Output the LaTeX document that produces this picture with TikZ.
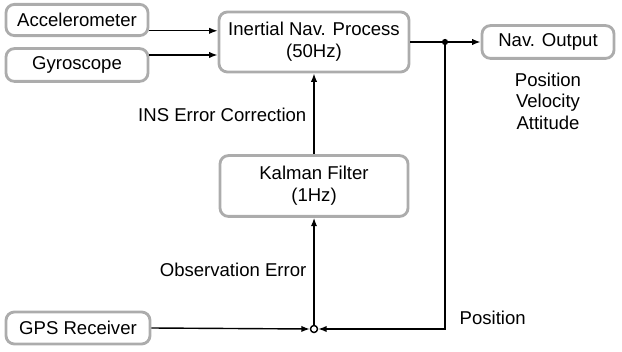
\documentclass[tikz,border=0pt]{standalone}
\usepackage{fontspec}
\setmainfont{Liberation Sans}
\usetikzlibrary{positioning,arrows.meta,calc}

\begin{document}
\begin{tikzpicture}[
  x=0.025cm, y=-0.025cm,
  >={Latex[length=6pt,width=4.5pt]},
  font=\fontsize{13.2pt}{15.5pt}\selectfont,
  box/.style={
    draw=gray!65, line width=2pt, rounded corners=6pt,
    inner sep=3pt, align=center
  },
  tag/.style={align=center, inner sep=1pt},
  arrow/.style={->, line width=1pt, black}
]
\useasboundingbox (0,0) rectangle (622,352);

% sensor inputs
\node[box, minimum width=3.55cm, minimum height=0.78cm] (acc) at (77,20) {Accelerometer};
\node[box, minimum width=3.55cm, minimum height=0.82cm] (gyro) at (77,65) {Gyroscope};
\node[box, minimum width=3.6cm, minimum height=0.8cm] (gps) at (78,328) {GPS Receiver};

% processing
\node[box, minimum width=4.75cm, minimum height=1.5cm] (ins) at (314,42) {Inertial Nav. Process\\(50Hz)};
\node[box, minimum width=4.7cm, minimum height=1.52cm] (kal) at (314,186) {Kalman Filter\\(1Hz)};
\node[box, minimum width=3.3cm, minimum height=0.82cm] (nav) at (548,42) {Nav. Output};
\node[tag, below=0.28cm of nav] (navlist) {Position\\Velocity\\Attitude};

% junctions
\node[draw, circle, line width=1pt, fill=white, inner sep=0pt, minimum size=5pt] (sum) at (314,329) {};
\coordinate (split) at (445,42);
\coordinate (accout) at ([yshift=-0.27cm]acc.east);
\coordinate (gyroout) at ([yshift=0.25cm]gyro.east);

% connectors
\draw[arrow] (accout) -- (accout -| ins.west);
\draw[arrow] (gyroout) -- (gyroout -| ins.west);
\draw[arrow] (ins.east) -- (nav.west);
\fill (split) circle (2.2pt);
\draw[arrow] (split) |- (sum.east);
\draw[arrow] (gps.east) -- (sum.west);
\draw[arrow] (sum.north) -- (kal.south);
\draw[arrow] (kal.north) -- (ins.south);

% labels
\node[tag, anchor=east] (corr) at (308,115) {INS Error Correction};
\node[tag, anchor=east] (obs) at (308,270) {Observation Error};
\node[tag, anchor=west] (pos) at (458,318) {Position};
\end{tikzpicture}
\end{document}
